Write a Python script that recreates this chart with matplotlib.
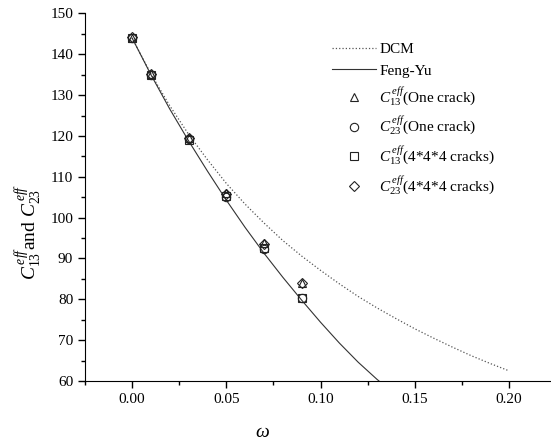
import numpy as np
import matplotlib
matplotlib.use('Agg')
import matplotlib.pyplot as plt
from matplotlib.ticker import MultipleLocator

plt.rcParams['font.family'] = ['Liberation Serif', 'DejaVu Serif']
plt.rcParams['mathtext.fontset'] = 'custom'
plt.rcParams['mathtext.rm'] = 'Liberation Serif'
plt.rcParams['mathtext.it'] = 'Liberation Serif:italic'

# curves
w_dcm = [0.00, 0.01, 0.02, 0.03, 0.04, 0.05, 0.06, 0.07, 0.08, 0.09, 0.10,
         0.11, 0.12, 0.13, 0.14, 0.15, 0.16, 0.17, 0.18, 0.19, 0.20]
c_dcm = [144.0, 135.2, 127.4, 120.4, 114.2, 108.4, 103.3, 98.7, 94.4, 90.6, 87.1,
         83.8, 80.7, 77.9, 75.3, 72.8, 70.5, 68.3, 66.2, 64.3, 62.5]

w_fy = [0.00, 0.01, 0.02, 0.03, 0.04, 0.05, 0.06, 0.07, 0.08, 0.09, 0.10,
        0.11, 0.12, 0.13, 0.14]
c_fy = [144.0, 135.0, 126.6, 118.8, 111.4, 104.3, 97.6, 91.3, 85.4, 79.8, 74.4,
        69.3, 64.6, 60.4, 56.6]

# simulation points
w_pts = [0.00, 0.01, 0.03, 0.05, 0.07, 0.09]
c13_one = [144.1, 135.3, 119.6, 106.0, 93.9, 84.1]
c23_one = [144.0, 135.0, 119.2, 105.0, 92.3, 80.4]
c13_444 = [144.0, 135.0, 119.0, 105.2, 92.6, 80.3]
c23_444 = [144.2, 135.3, 119.5, 105.7, 93.5, 84.0]

fig = plt.figure(figsize=(5.51, 4.45), dpi=100)
ax = fig.add_axes([85/551, 1-381/445, (556-85)/551, (381-13.5)/445])

ax.plot(w_dcm, c_dcm, ':', color='#555555', lw=0.9, label='DCM')
ax.plot(w_fy, c_fy, '-', color='#333333', lw=0.8, label='Feng-Yu')
mk = dict(ls='none', mfc='none', mec='#222222', mew=0.8, ms=6)
ax.plot(w_pts, c13_one, marker='^', label=r'$C_{13}^{\,eff}$(One crack)', **mk)
ax.plot(w_pts, c23_one, marker='o', label=r'$C_{23}^{\,eff}$(One crack)', **mk)
ax.plot(w_pts, c13_444, marker='s', label=r'$C_{13}^{\,eff}$(4*4*4 cracks)', **mk)
ax.plot(w_pts, c23_444, marker='D', label=r'$C_{23}^{\,eff}$(4*4*4 cracks)',
        **dict(mk, ms=5))

ax.set_xlim(-0.025, 0.225)
ax.set_ylim(60, 150)
ax.xaxis.set_major_locator(MultipleLocator(0.05))
ax.xaxis.set_minor_locator(MultipleLocator(0.025))
ax.yaxis.set_major_locator(MultipleLocator(10))
ax.yaxis.set_minor_locator(MultipleLocator(5))
ax.xaxis.set_major_formatter(matplotlib.ticker.FormatStrFormatter('%.2f'))
for s in ['top', 'right']:
    ax.spines[s].set_visible(False)
ax.tick_params(which='major', direction='out', length=5, width=1, labelsize=11)
ax.tick_params(which='minor', direction='out', length=3, width=1)

ax.set_xlabel(r'$\omega$', fontsize=14)
ax.set_ylabel(r'$C_{13}^{\,eff}$and $C_{23}^{\,eff}$', fontsize=14)
ax.xaxis.set_label_coords(0.376, -0.118)
ax.yaxis.set_label_coords(-0.088, 0.405)

ax.legend(loc='upper left', bbox_to_anchor=(318/551, 1-29/445),
          bbox_transform=fig.transFigure, frameon=False, fontsize=11,
          handlelength=2.9, handletextpad=0.2, labelspacing=0.5, numpoints=1)

fig.savefig('out.png', dpi=100)
